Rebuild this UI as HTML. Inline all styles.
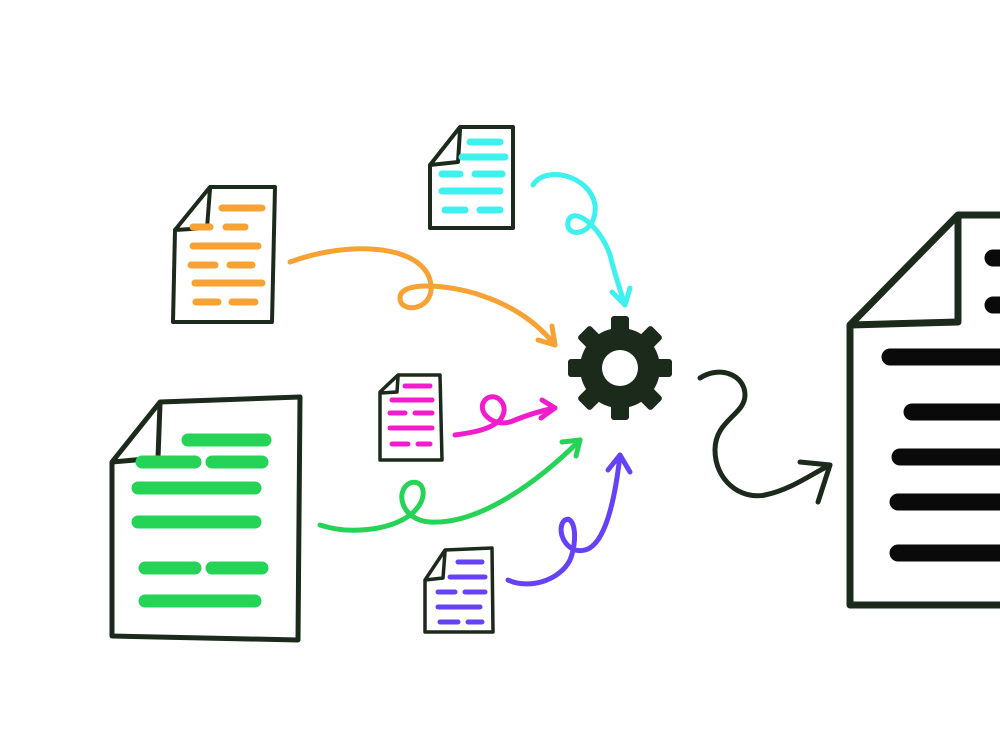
<!DOCTYPE html>
<html><head><meta charset="utf-8"><style>html,body{margin:0;padding:0;background:#fff;width:1000px;height:750px;overflow:hidden}</style></head>
<body>
<svg width="1000" height="750" viewBox="0 0 1000 750" xmlns="http://www.w3.org/2000/svg" fill="none" stroke-linecap="round" stroke-linejoin="round">
<!-- orange doc -->
<path d="M175 230 L210 187 L275 187 L272 322 L173 322 Z M210 189 L207 228 L175 230" stroke="#1c2a1c" stroke-width="4" fill="#fff"/>
<g stroke="#f7a235" stroke-width="7">
<path d="M222 208 H262"/><path d="M193 227 H210 M226 227 H245"/><path d="M193 246 H258"/><path d="M191 265 H215 M230 265 H252"/><path d="M195 283 H262"/><path d="M196 302 H218 M232 302 H255"/></g>
<!-- cyan doc -->
<path d="M430 165 L460 127 L513 127 L513 228 L430 228 Z M460 130 L458 162 L430 165" stroke="#1c2a1c" stroke-width="4" fill="#fff"/>
<g stroke="#3ef0ee" stroke-width="7">
<path d="M470 142 H500"/><path d="M462 157 H505"/><path d="M442 174 H460 M475 174 H502"/><path d="M442 191 H500"/><path d="M445 210 H465 M480 210 H500"/></g>
<!-- magenta doc -->
<path d="M380 392 L398 375 L440 375 L442 460 L380 460 Z M398 377 L397 392 L380 393" stroke="#1c2a1c" stroke-width="3.5" fill="#fff"/>
<g stroke="#f21ccd" stroke-width="5">
<path d="M405 386 H430"/><path d="M392 400 H432"/><path d="M390 413 H405 M415 413 H432"/><path d="M390 428 H432"/><path d="M392 444 H408 M418 444 H430"/></g>
<!-- green doc -->
<path d="M112 462 L160 402 L300 397 L298 640 L112 636 Z M160 404 L158 458 L112 462" stroke="#1c2a1c" stroke-width="5" fill="#fff"/>
<g stroke="#25d456" stroke-width="13">
<path d="M188 440 H265"/><path d="M142 462 H195 M212 462 H262"/><path d="M138 488 H255"/><path d="M138 522 H255"/><path d="M145 568 H195 M212 568 H262"/><path d="M145 601 H255"/></g>
<!-- purple doc -->
<path d="M425 580 L445 550 L492 548 L493 632 L425 632 Z M445 552 L443 578 L425 580" stroke="#1c2a1c" stroke-width="3.5" fill="#fff"/>
<g stroke="#6542f5" stroke-width="5">
<path d="M458 562 H482"/><path d="M450 577 H485"/><path d="M438 592 H455 M465 592 H485"/><path d="M438 607 H480"/><path d="M440 622 H458 M468 622 H482"/></g>
<!-- big doc -->
<path d="M850 325 L958 215 L1005 215 L1005 605 L850 605 Z M958 218 L958 322 L850 325" stroke="#1c2a1c" stroke-width="7" fill="#fff"/>
<g stroke="#0a0a0a" stroke-width="17">
<path d="M993 258 H1005"/><path d="M993 305 H1005"/><path d="M890 357 H1005"/><path d="M912 412 H1005"/><path d="M900 457 H1005"/><path d="M898 502 H1005"/><path d="M898 553 H1005"/></g>
<!-- gear -->
<g transform="translate(620,368)">
<g fill="#1c2a1c">
<circle r="40"/>
<g id="t"><rect x="-9" y="-52" width="18" height="18" rx="3"/></g>
<use href="#t" transform="rotate(45)"/><use href="#t" transform="rotate(90)"/><use href="#t" transform="rotate(135)"/><use href="#t" transform="rotate(180)"/><use href="#t" transform="rotate(225)"/><use href="#t" transform="rotate(270)"/><use href="#t" transform="rotate(315)"/>
</g>
<circle r="18" fill="#fff"/>
</g>
<!-- arrows -->
<g stroke-width="5">
<path d="M290 262 C350 240 420 245 430 280 C438 310 400 315 400 298 C400 280 450 285 480 295 C510 305 535 320 555 345" stroke="#f7a235"/>
<path d="M538 340 L555 345 L552 326" stroke="#f7a235"/>
<path d="M533 185 C545 165 590 175 595 205 C598 235 565 240 568 222 C572 205 600 225 610 255 C615 275 620 290 625 305" stroke="#3ef0ee"/>
<path d="M612 292 L625 305 L630 288" stroke="#3ef0ee"/>
<path d="M455 435 C470 433 490 430 500 420 C512 405 495 390 485 400 C475 412 495 430 515 420 C530 414 545 410 555 408" stroke="#f21ccd"/>
<path d="M542 400 L555 408 L541 418" stroke="#f21ccd"/>
<path d="M320 525 C350 535 390 530 410 515 C430 500 425 478 410 483 C395 490 400 520 430 522 C480 525 540 480 580 440" stroke="#25d456"/>
<path d="M562 442 L580 440 L576 456" stroke="#25d456"/>
<path d="M508 580 C530 590 560 580 570 560 C578 540 575 515 565 520 C555 528 565 555 585 550 C605 545 615 500 620 455" stroke="#6542f5"/>
<path d="M608 470 L620 455 L630 472" stroke="#6542f5"/>
<path d="M700 378 C720 365 745 375 745 395 C745 415 715 420 715 450 C715 480 740 500 765 495 C790 490 810 475 830 465" stroke="#1c2a1c"/>
<path d="M800 462 L830 465 L818 502" stroke="#1c2a1c"/>
</g>
</svg>
</body></html>
